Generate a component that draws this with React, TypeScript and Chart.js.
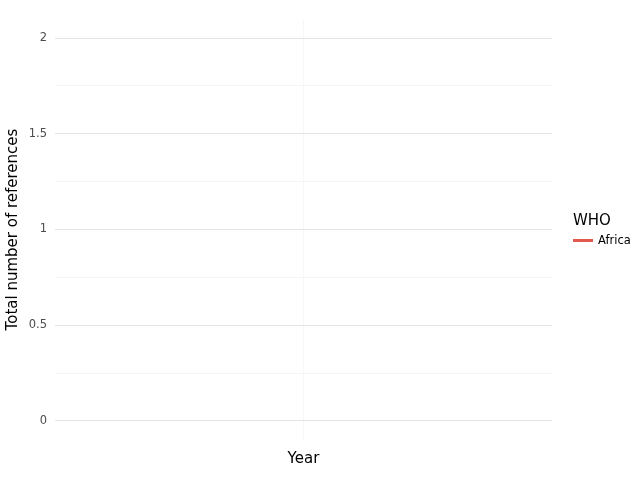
import React, { useEffect, useRef } from "react";
import { Chart, registerables } from "chart.js";

Chart.register(...registerables);

const years = [2015];
const africaRefs = [1];
const yTicks = [0, 0.25, 0.5, 0.75, 1, 1.25, 1.5, 1.75, 2];
const legendTitle = "WHO";
const seriesName = "Africa";
const seriesColor = "#E2584C";

const FONT = "'DejaVu Sans', sans-serif";

export default function App() {
  const ref = useRef<HTMLCanvasElement | null>(null);

  useEffect(() => {
    if (!ref.current) return;
    const chart = new Chart(ref.current, {
      type: "line",
      data: {
        datasets: [
          {
            label: seriesName,
            data: years.map((y, i) => ({ x: y, y: africaRefs[i] })),
            borderColor: seriesColor,
            backgroundColor: seriesColor,
            borderWidth: 2,
            pointRadius: 0,
          },
        ],
      },
      options: {
        responsive: false,
        animation: false,
        layout: { padding: { left: 0, top: 19, right: 88, bottom: 0 } },
        plugins: { legend: { display: false }, tooltip: { enabled: false } },
        scales: {
          x: {
            type: "linear",
            min: years[0] - 1,
            max: years[years.length - 1] + 1,
            afterBuildTicks: (s: any) => {
              s.ticks = years.map((v) => ({ value: v }));
            },
            afterFit: (s: any) => {
              s.height = 40;
            },
            border: { display: false },
            grid: { color: "#f7f7f7", lineWidth: 1, drawTicks: false },
            ticks: { display: false },
            title: {
              display: true,
              text: "Year",
              color: "#000",
              font: { family: FONT, size: 15 },
              padding: { top: 0, bottom: 12 },
            },
          },
          y: {
            type: "linear",
            min: -0.1,
            max: 2.1,
            afterBuildTicks: (s: any) => {
              s.ticks = yTicks.map((v) => ({ value: v }));
            },
            afterFit: (s: any) => {
              s.width = 55;
            },
            border: { display: false },
            grid: {
              drawTicks: false,
              lineWidth: 1,
              color: (ctx: any) => {
                const v = ctx.tick ? ctx.tick.value : 0;
                return Math.abs(v * 2 - Math.round(v * 2)) < 1e-6 ? "#e4e4e4" : "#f4f4f4";
              },
            },
            ticks: {
              padding: 8,
              color: "#4d4d4d",
              font: { family: FONT, size: 11.5 },
              callback: (v: any) => {
                const n = Number(v);
                return Math.abs(n * 2 - Math.round(n * 2)) < 1e-6 ? String(n) : "";
              },
            },
            title: {
              display: true,
              text: "Total number of references",
              color: "#000",
              font: { family: FONT, size: 15 },
              padding: { top: 4, bottom: 0 },
            },
          },
        },
      },
    });
    return () => chart.destroy();
  }, []);

  return (
    <div style={{ position: "absolute", left: 0, top: 0, width: 640, height: 480, overflow: "hidden", background: "#fff" }}>
      <canvas ref={ref} width={640} height={480} style={{ display: "block" }} />
      <div style={{ position: "absolute", left: 573, top: 210, fontFamily: FONT, fontSize: 15, color: "#000", lineHeight: "20px" }}>
        {legendTitle}
      </div>
      <div style={{ position: "absolute", left: 573, top: 232, display: "flex", alignItems: "center", fontFamily: FONT, fontSize: 11.5, color: "#000", whiteSpace: "nowrap" }}>
        <span style={{ display: "inline-block", width: 20, height: 3, background: seriesColor, marginRight: 5 }} />
        <span style={{ lineHeight: "16px" }}>{seriesName}</span>
      </div>
    </div>
  );
}
